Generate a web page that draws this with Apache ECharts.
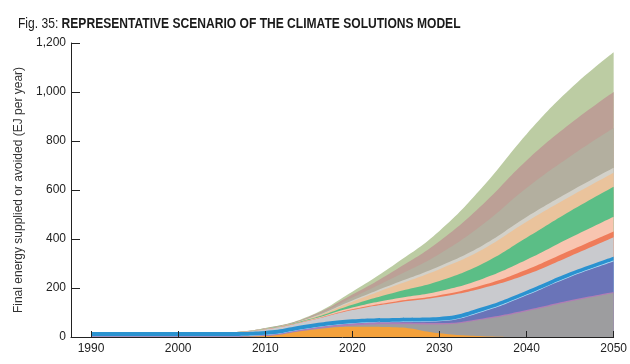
<!DOCTYPE html>
<html>
<head>
<meta charset="utf-8">
<script src="https://cdn.jsdelivr.net/npm/echarts@6/dist/echarts.min.js"></script>
<style>
html,body{margin:0;padding:0;background:#fff;}
#chart{width:630px;height:364px;}
#err{position:absolute;left:100px;top:60px;font:10px monospace;color:red;}
</style>
</head>
<body>
<div id="chart"></div>
<div id="err"></div>
<script>
const years = [1990,1995,2000,2005,2010,2015,2020,2025,2030,2035,2040,2045,2050];
const xTickLabels = [1990,2000,2010,2020,2030,2040,2050];
const yTickLabels = [0,200,400,600,800,1000,1200];

const orange     = [0,0,0,0,4,28,42,40,15,3,0,0,0];
const gray       = [0,0,0,0,0,1,5,12,36,68,105,145,180];
const purple     = [2,2,2,2,3,5,7,7,6,5,5,5,4];
const slate      = [0,0,0,0,0,0,0,1,7,27,60,95,124];
const lightBlue  = [2,2,2,2,2,2,2,2,2,3,3,3,4];
const blue       = [16,16,16,16,16,16,16,16,16,16,16,16,16];
const lightGray  = [0,0,0,0,6,14,38,62,81,78,66,66,79];
const red        = [0,0,0,0,0,1,3,5,7,12,20,23,24];
const salmon     = [0,0,0,0,1,2,7,12,17,26,40,52,60];
const green      = [0,0,0,0,1,3,12,26,42,62,90,108,122];
const peach      = [0,0,0,0,1,3,12,28,48,58,65,60,57];
const paleGray   = [0,0,0,0,0,1,5,9,12,17,20,21,21];
const taupe      = [0,0,0,0,1,3,12,27,50,85,118,143,162];
const brown      = [0,0,0,0,1,3,12,28,52,82,112,133,147];
const sage       = [0,0,0,0,1,3,12,25,42,72,108,142,162];

const layers = [
  ['Orange', orange, '#f4a13b'],
  ['Gray', gray, '#9d9d9f'],
  ['Purple', purple, '#b07cb6'],
  ['Slate', slate, '#6a74b8'],
  ['Light blue', lightBlue, '#b0dcf3'],
  ['Blue', blue, '#2a92d0'],
  ['Light gray', lightGray, '#c9cace'],
  ['Red', red, '#ef7c5a'],
  ['Salmon', salmon, '#f8c5b0'],
  ['Green', green, '#5bbe86'],
  ['Peach', peach, '#eac39c'],
  ['Pale gray', paleGray, '#d3d1c9'],
  ['Taupe', taupe, '#b3af9f'],
  ['Brown', brown, '#bca096'],
  ['Sage', sage, '#bccca3']
];

const FONT = "'Liberation Sans', Arial, sans-serif";

try {
  const chart = echarts.init(document.getElementById('chart'), null, {renderer:'canvas'});
  // cumulative tops; each area filled down to zero, upper layers drawn first (behind)
  let running = years.map(() => 0);
  const series = layers.map(([name, vals, color]) => {
    running = running.map((r, i) => r + vals[i]);
    const cum = running.slice();
    return {
      name: name,
      type: 'line',
      smooth: 0.45,
      symbol: 'none',
      lineStyle: {width: 0},
      areaStyle: {color: color, opacity: 1, origin: 'start'},
      itemStyle: {color: color},
      data: years.map((y, i) => [y, cum[i]])
    };
  }).reverse();

  chart.setOption({
    animation: false,
    graphic: [{
      type: 'text',
      x: 18, y: 17.5,
      scaleX: 0.862,
      style: {
        text: '{n|Fig. 35: }{b|REPRESENTATIVE SCENARIO OF THE CLIMATE SOLUTIONS MODEL}',
        rich: {
          n: {fontFamily: FONT, fontSize: 14, fill: '#1a1a1a'},
          b: {fontFamily: FONT, fontSize: 14, fontWeight: 'bold', fill: '#1a1a1a'}
        }
      }
    }],
    grid: {left: 71, right: 15, top: 43, bottom: 27, containLabel: false},
    xAxis: {
      type: 'value',
      min: 1987.7,
      max: 2050,
      z: 10,
      axisLine: {show: true, lineStyle: {color: '#222', width: 1}},
      axisTick: {show: true, inside: true, length: 6, customValues: xTickLabels, lineStyle: {color: '#222'}},
      axisLabel: {customValues: xTickLabels, color: '#222', fontFamily: FONT, fontSize: 12, margin: 6,
        formatter: v => String(v)},
      splitLine: {show: false}
    },
    yAxis: {
      type: 'value',
      min: 0, max: 1200, interval: 200,
      z: 10,
      name: 'Final energy supplied or avoided (EJ per year)',
      nameLocation: 'middle',
      nameGap: 34,
      nameRotate: 90,
      nameTextStyle: {color: '#333', fontFamily: FONT, fontSize: 12},
      axisLine: {show: true, lineStyle: {color: '#222', width: 1}},
      axisTick: {show: true, inside: true, length: 9, lineStyle: {color: '#222'}},
      axisLabel: {
        color: '#222', fontFamily: FONT, fontSize: 12, margin: 5,
        formatter: v => v.toLocaleString('en-US')
      },
      splitLine: {show: false}
    },
    series: series
  });
} catch (e) {
  document.getElementById('err').textContent = String(e && e.stack || e);
}
</script>
</body>
</html>
